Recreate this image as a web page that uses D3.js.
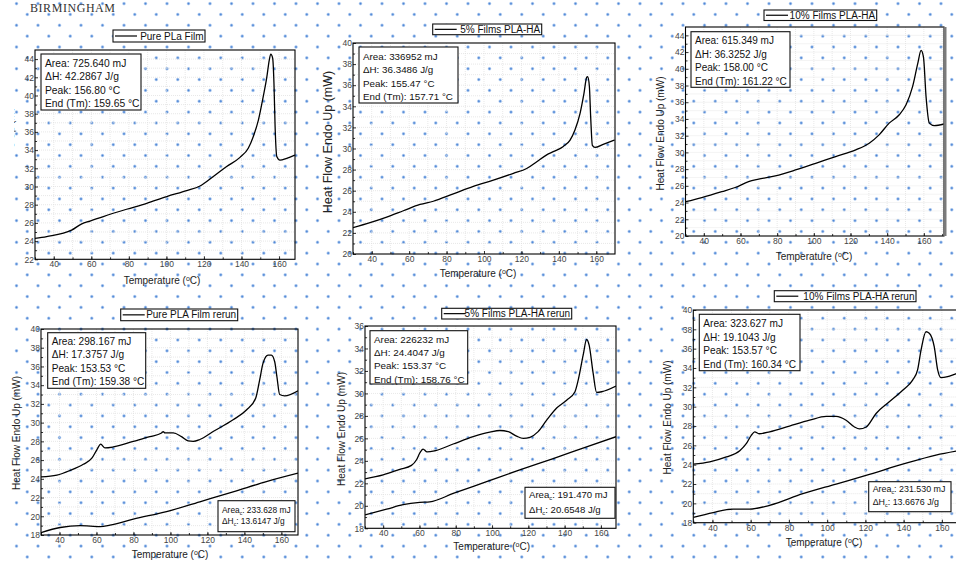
<!DOCTYPE html>
<html>
<head>
<meta charset="utf-8">
<script src="https://cdn.jsdelivr.net/npm/d3@7"></script>
<style>
  body { margin: 0; background: #fff; }
  svg { display: block; font-family: 'Liberation Sans', Arial, sans-serif; }
</style>
</head>
<body>
<svg width="956" height="562"></svg>
<script>
// ---- data ----
const xTicks = [40, 60, 80, 100, 120, 140, 160]

const p1Temp = [30, 36.2, 49.5, 54.9, 59.3, 66.4, 78.8, 89.5, 100.2, 110.8, 117.9, 125, 132.1, 139.2, 143.6, 146.3, 149, 151.6, 153.4, 154.8, 155.6, 156.6, 157.3, 157.9, 158.8, 160.5, 164.1, 168.4]
const p1Flow = [24.3, 24.5, 25.2, 25.9, 26.2, 26.7, 27.5, 28.15, 28.9, 29.55, 30.05, 31.1, 32.2, 33.2, 34.2, 35.5, 37.3, 39.9, 41.9, 43.9, 44.55, 44.1, 41.3, 36.6, 33.3, 32.9, 33.1, 33.45]

const p2Temp = [30, 39.1, 48, 56.9, 65.8, 72.9, 83.6, 94.3, 105, 115.7, 122.8, 128.2, 133.5, 137, 142.4, 146, 148.6, 151.3, 153.4, 154.9, 155.4, 156.3, 157, 157.9, 159.3, 163.7, 169.8]
const p2Flow = [22.5, 22.97, 23.5, 24.1, 24.7, 25.0, 25.7, 26.4, 27.0, 27.65, 28.1, 28.75, 29.4, 29.7, 30.2, 30.8, 31.75, 33.3, 35.2, 36.75, 36.8, 35.9, 33.0, 30.3, 30.1, 30.4, 30.8]

const p3Temp = [30, 38.9, 49.8, 57.1, 64.4, 69.9, 79, 90, 101, 111.9, 122.9, 130.2, 135.6, 141.1, 146.6, 150.3, 153.9, 156.7, 158.5, 159.8, 161.2, 163, 165.7, 171]
const p3Flow = [24.1, 24.6, 25.3, 25.8, 26.5, 26.8, 27.2, 27.9, 28.7, 29.5, 30.3, 31.1, 32.1, 33.5, 34.5, 35.7, 37.9, 40.65, 42.2, 41.4, 36.7, 33.5, 33.2, 33.4]

const p4Temp = [30, 38.6, 45.8, 52.9, 57.5, 60.2, 62.3, 64.6, 69.1, 79.9, 88.9, 95.2, 96.1, 97, 101.5, 106, 109.6, 112.3, 115.9, 123.1, 133.9, 141.1, 146.1, 148.3, 150.1, 152.8, 154.6, 156.4, 157.6, 159.1, 161.8, 169]
const p4Flow = [24.2, 24.4, 24.9, 25.55, 26.2, 27.1, 27.7, 27.3, 27.4, 28.0, 28.5, 28.9, 29.05, 28.9, 28.9, 28.5, 28.05, 28.0, 28.2, 29.05, 30.3, 31.35, 32.6, 34.6, 36.35, 37.2, 37.2, 36.5, 34.9, 33.0, 32.85, 33.4]
const p4CoolTemp = [30, 40.4, 51.2, 56.6, 62, 67.3, 79.9, 97.9, 115.9, 133.9, 151.9, 169]
const p4CoolFlow = [18.25, 18.8, 19.0, 18.95, 18.9, 19.05, 19.7, 20.5, 21.55, 22.6, 23.7, 24.6]

const p5Temp = [30, 40, 49.2, 55.6, 58.4, 60.2, 62, 64.2, 68.5, 78.6, 89.6, 98.8, 104.3, 108.9, 113.5, 117.2, 120.9, 125.4, 130, 135.6, 141.1, 145.7, 147.5, 150.2, 152.1, 153.5, 155.7, 157.6, 160.4, 168.3]
const p5Flow = [22.4, 22.75, 23.25, 23.6, 24.1, 24.7, 25.05, 24.8, 24.9, 25.5, 26.15, 26.55, 26.7, 26.6, 26.2, 26.0, 26.1, 26.6, 27.6, 28.7, 29.4, 30.15, 31.2, 33.4, 34.8, 34.3, 31.8, 30.1, 30.15, 30.65]
const p5CoolTemp = [30, 41.9, 51, 60.2, 65.7, 78.6, 97, 115.3, 133.7, 152.1, 168.3]
const p5CoolFlow = [19.2, 19.7, 20.1, 20.3, 20.35, 21.1, 22.15, 23.2, 24.2, 25.25, 26.15]

const p6Temp = [30, 38.6, 47.3, 54.3, 57.8, 60.4, 62.1, 64.4, 69.9, 80.3, 90.8, 99.5, 104.7, 109.9, 114.3, 116.9, 120.4, 125.6, 132.5, 139.5, 144.7, 147.3, 149.1, 151.7, 153.4, 156, 157.8, 159.5, 163, 167.3, 170]
const p6Flow = [24.05, 24.3, 24.8, 25.45, 26.2, 27.05, 27.4, 27.2, 27.4, 28.0, 28.6, 29.0, 29.0, 28.6, 27.9, 27.7, 27.9, 29.3, 30.5, 31.7, 32.75, 33.8, 35.85, 37.75, 37.6, 36.2, 33.8, 33.0, 33.1, 33.4, 33.55]
const p6CoolTemp = [30, 40.4, 50.8, 59.5, 69.9, 87.3, 104.7, 122.1, 139.5, 156.9, 170]
const p6CoolFlow = [18.55, 19.05, 19.4, 19.4, 19.8, 21.0, 22.0, 23.0, 24.05, 25.0, 25.5]

const legendNames = ['Pure PLa Film', '5% Films PLA-HA', '10% Films PLA-HA',
    'Pure PLA Film rerun', '5% Films PLA-HA rerun', '10% Films PLA-HA rerun']

const meltText = [
    ['Area: 725.640 mJ', 'ΔH: 42.2867 J/g', 'Peak: 156.80 °C', 'End (Tm): 159.65 °C'],
    ['Area: 336952 mJ', 'ΔH: 36.3486 J/g', 'Peak: 155.47 °C', 'End (Tm): 157.71 °C'],
    ['Area: 615.349 mJ', 'ΔH: 36.3252 J/g', 'Peak: 158.00 °C', 'End (Tm): 161.22 °C'],
    ['Area: 298.167 mJ', 'ΔH: 17.3757 J/g', 'Peak: 153.53 °C', 'End (Tm): 159.38 °C'],
    ['Area: 226232 mJ', 'ΔH: 24.4047 J/g', 'Peak: 153.37 °C', 'End (Tm): 158.76 °C'],
    ['Area: 323.627 mJ', 'ΔH: 19.1043 J/g', 'Peak: 153.57 °C', 'End (Tm): 160.34 °C'],
]
const crystText = [
    null, null, null,
    ['Area_c: 233.628 mJ', 'ΔH_c: 13.6147 J/g'],
    ['Area_c: 191.470 mJ', 'ΔH_c: 20.6548 J/g'],
    ['Area_c: 231.530 mJ', 'ΔH_c: 13.6676 J/g'],
]

// ---- layout of the pasted panels ----
const panels = [
    { l: 35, r: 295, t: 50, b: 259.3, xd: [30, 168.5], yd: [22, 45],
      curves: [[p1Temp, p1Flow]],
      leg: [113, 30, 92, 12], box: [41, 54, 100, 56, 10.3, 12.6, 13.6],
      yl: [14, 156.5, 10], xl: [162, 284] },
    { l: 353, r: 615, t: 43, b: 254, xd: [30, 170], yd: [20, 40],
      curves: [[p2Temp, p2Flow]],
      leg: [432.7, 24, 109, 10.7], box: [359, 47, 99, 56, 9.8, 12.6, 13.6],
      yl: [332, 142, 12.5], xl: [478, 277] },
    { l: 685.5, r: 944, t: 27, b: 236, xd: [30, 171], yd: [20, 45],
      curves: [[p3Temp, p3Flow]],
      leg: [764, 10, 112.7, 10.5], box: [691, 31.7, 99, 55.6, 10, 12.5, 13.5],
      yl: [664, 133.5, 10], xl: [814, 260], greyEdge: true },
    { l: 41, r: 298, t: 329, b: 535, xd: [30, 169], yd: [18, 40],
      curves: [[p4Temp, p4Flow], [p4CoolTemp, p4CoolFlow]],
      leg: [120.7, 309, 117, 11.7], box: [47.7, 332.7, 98, 55.6, 10.1, 12, 13.4],
      box2: [218, 500.7, 77, 31, 8.4, 11.8, 11.6],
      yl: [20, 433, 10], xl: [170, 558] },
    { l: 365, r: 616, t: 326, b: 528.3, xd: [30, 168.3], yd: [18, 36],
      curves: [[p5Temp, p5Flow], [p5CoolTemp, p5CoolFlow]],
      leg: [441.7, 308.3, 130, 10.7], box: [370, 330.7, 97.7, 53.3, 9.9, 12, 13.3],
      box2: [525, 487.3, 90, 31, 9.6, 10.2, 15.8],
      yl: [345, 429, 10], xl: [491.7, 550] },
    { l: 693.3, r: 961, t: 310, b: 522.7, xd: [30, 170], yd: [18, 40],
      curves: [[p6Temp, p6Flow], [p6CoolTemp, p6CoolFlow]],
      leg: [774.3, 290.7, 141.7, 11], box: [699.3, 314.3, 100.7, 56.4, 10.1, 12.6, 13.6],
      box2: [868.7, 481.7, 82.3, 30, 8.9, 10.4, 13.3],
      yl: [671, 417.5, 10], xl: [824, 546] },
]

const svg = d3.select('svg')
const W = 956, H = 562

// watermark dot pattern behind everything
const defs = svg.append('defs')
const grad = defs.append('radialGradient').attr('id', 'dot')
grad.append('stop').attr('offset', 0).attr('stop-color', '#4a84d4')
grad.append('stop').attr('offset', 0.35).attr('stop-color', '#6f9edf')
grad.append('stop').attr('offset', 1).attr('stop-color', '#b3cdf0').attr('stop-opacity', 0)

const dots = []
for (let n = -2; n <= 49; n++) {
    const y = 25.3 + 10.85 * n
    const x0 = n % 2 === 0 ? 16.5 : 27.25
    for (let x = x0; x < W + 3; x += 21.5) dots.push([x, y])
}
svg.append('g').selectAll('circle').data(dots).join('circle')
    .attr('cx', d => d[0]).attr('cy', d => d[1]).attr('r', 2.3)
    .attr('fill', 'url(#dot)')

// university header
svg.append('text').attr('x', 30).attr('y', 11.5).attr('font-family', 'Liberation Serif')
    .attr('font-size', 12).attr('fill', '#333').attr('textLength', 85)
    .text('BIRMINGHAM')

function writeLine(sel, str) {
    const parts = str.split('_c')
    sel.append('tspan').text(parts[0])
    if (parts.length > 1) {
        sel.append('tspan').attr('font-size', '0.6em').attr('dy', 2).text('c')
        sel.append('tspan').attr('dy', -2).text(parts[1])
    }
}

function drawBox(g, b, lines) {
    const [bx, by, bw, bh, fs, base, step] = b
    g.append('rect').attr('x', bx).attr('y', by).attr('width', bw).attr('height', bh)
        .attr('fill', '#fff').attr('stroke', '#111').attr('stroke-width', 1.1)
    lines.forEach((s, i) => {
        const t = g.append('text').attr('x', bx + 4).attr('y', by + base + i * step)
            .attr('font-size', fs).attr('fill', '#111')
        writeLine(t, s)
    })
}

panels.forEach((p, i) => {
    const g = svg.append('g')
    const x = d3.scaleLinear().domain(p.xd).range([p.l, p.r])
    const y = d3.scaleLinear().domain(p.yd).range([p.b, p.t])

    const clipId = 'clip' + i
    defs.append('clipPath').attr('id', clipId).append('rect')
        .attr('x', p.l).attr('y', p.t).attr('width', p.r - p.l).attr('height', p.b - p.t)

    // light grid
    const grid = g.append('g').attr('clip-path', `url(#${clipId})`)
        .attr('stroke', '#dedede').attr('stroke-width', 0.7).attr('stroke-dasharray', '1,1')
    grid.selectAll('line.gx').data(d3.range(40, p.xd[1], 10)).join('line')
        .attr('x1', d => x(d)).attr('x2', d => x(d)).attr('y1', p.t).attr('y2', p.b)
    grid.selectAll('line.gy').data(d3.range(Math.ceil(p.yd[0]) + 1, p.yd[1], 1)).join('line')
        .attr('y1', d => y(d)).attr('y2', d => y(d)).attr('x1', p.l).attr('x2', p.r)

    // axes, ticks pointing inwards
    const yTicks = d3.range(p.yd[0], Math.floor(p.yd[1]) + 0.1, 2)
    const xAxis = g.append('g').attr('transform', `translate(0,${p.b})`)
        .call(d3.axisBottom(x).tickValues(xTicks).tickSize(-3).tickPadding(2))
    const xMinor = g.append('g').attr('transform', `translate(0,${p.b})`)
        .call(d3.axisBottom(x).tickValues(d3.range(30, p.xd[1], 10)).tickSize(-2).tickFormat(''))
    const yAxis = g.append('g').attr('transform', `translate(${p.l},0)`)
        .call(d3.axisLeft(y).tickValues(yTicks).tickSize(-3).tickPadding(1))
    const yMinor = g.append('g').attr('transform', `translate(${p.l},0)`)
        .call(d3.axisLeft(y).tickValues(d3.range(p.yd[0] + 1, p.yd[1], 2)).tickSize(-2).tickFormat(''))
    ;[xAxis, xMinor, yAxis, yMinor].forEach(a => {
        a.select('.domain').remove()
        a.selectAll('text').attr('font-size', 8.5).attr('fill', '#444')
            .attr('font-family', 'Liberation Sans')
        a.selectAll('line').attr('stroke', '#333')
    })

    // curves
    const line = d3.line().x(d => x(d[0])).y(d => y(d[1])).curve(d3.curveMonotoneX)
    g.append('g').attr('clip-path', `url(#${clipId})`)
        .selectAll('path').data(p.curves).join('path')
        .attr('d', c => line(d3.zip(c[0], c[1])))
        .attr('fill', 'none').attr('stroke', '#000').attr('stroke-width', 1.3)

    // frame
    g.append('rect').attr('x', p.l).attr('y', p.t).attr('width', p.r - p.l).attr('height', p.b - p.t)
        .attr('fill', 'none').attr('stroke', '#000').attr('stroke-width', 1.1)
    if (p.greyEdge) {
        g.append('rect').attr('x', p.r - 0.5).attr('y', p.t).attr('width', 3).attr('height', p.b - p.t)
            .attr('fill', '#7a7a7a')
    }

    // legend
    const [lx, ly, lw, lh] = p.leg
    g.append('rect').attr('x', lx).attr('y', ly).attr('width', lw).attr('height', lh)
        .attr('fill', '#fff').attr('stroke', '#111').attr('stroke-width', 1.1)
    g.append('line').attr('x1', lx + 2).attr('x2', lx + 24).attr('y1', ly + lh / 2).attr('y2', ly + lh / 2)
        .attr('stroke', '#000').attr('stroke-width', 1.2)
    g.append('text').attr('x', lx + lw - 1.5).attr('y', ly + lh / 2 + 3.6)
        .attr('text-anchor', 'end').attr('font-size', 10).attr('fill', '#111')
        .text(legendNames[i])

    // annotation boxes
    drawBox(g, p.box, meltText[i])
    if (p.box2) drawBox(g, p.box2, crystText[i])

    // axis titles
    const [yx, yy, yfs] = p.yl
    const yt = g.append('text').attr('transform', `translate(${yx},${yy}) rotate(-90)`)
        .attr('text-anchor', 'middle').attr('font-size', yfs).attr('fill', '#222')
        .text('Heat Flow Endo Up (mW)')
    if (i === 0) {
        defs.append('clipPath').attr('id', 'ylabClip').append('rect')
            .attr('x', 9).attr('y', 0).attr('width', 40).attr('height', H)
        yt.attr('clip-path', 'url(#ylabClip)')
    }
    const xt = g.append('text').attr('x', p.xl[0]).attr('y', p.xl[1])
        .attr('text-anchor', 'middle').attr('font-size', 10).attr('fill', '#222')
    xt.append('tspan').text('Temperature (')
    xt.append('tspan').attr('font-size', 7).attr('dy', -3.5).text('o')
    xt.append('tspan').attr('dy', 3.5).text('C)')
})
</script>
</body>
</html>
